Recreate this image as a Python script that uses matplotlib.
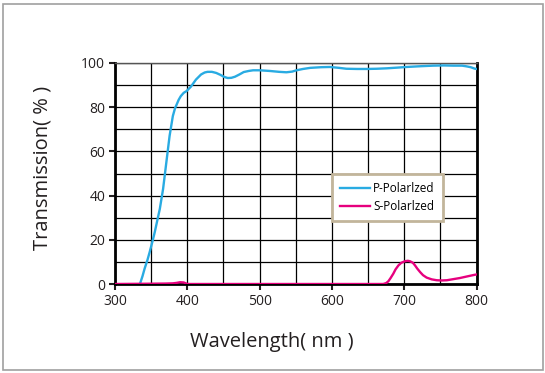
import matplotlib.pyplot as plt
from matplotlib.patches import Rectangle

# P-polarized transmission
p_wl = [334.5, 338, 341, 345, 348, 352, 355, 359, 362, 366.5, 371, 375.5, 380, 383,
        385, 388, 391, 395, 399, 405, 412, 419, 424, 428, 434, 440, 446, 451, 456,
        461, 466, 472, 478, 485, 491, 500, 514, 527, 537, 545, 551, 560, 570, 585,
        597, 610, 620, 635, 648, 662, 676, 690, 703, 720, 740, 755, 768, 780, 786,
        792, 797, 800]
p_t = [0, 3.5, 7, 11, 14.5, 19.5, 23.5, 29.5, 34, 43, 55, 67, 76, 79.5,
       81, 83.3, 85, 86.5, 87.3, 89.3, 92.5, 94.8, 95.7, 96, 96, 95.5, 94.6, 93.7, 93.2,
       93.3, 93.8, 94.8, 95.9, 96.4, 96.7, 96.7, 96.4, 96.0, 95.8, 96.1, 96.7, 97.3, 97.8, 98.1,
       98.2, 97.8, 97.4, 97.3, 97.3, 97.4, 97.6, 97.9, 98.2, 98.5, 98.8, 98.9, 98.8, 98.8, 98.5,
       98.1, 97.5, 97.3]

# S-polarized transmission
s_wl = [300, 340, 370, 380, 385, 390, 395, 398, 400, 500, 600, 671, 675, 678, 681,
        685, 688, 692, 696, 701, 705, 708, 712, 715, 718, 722, 726, 731, 738, 745,
        752, 759, 768, 777, 788, 798, 800]
s_t = [0, 0.1, 0.2, 0.3, 0.5, 0.8, 0.7, 0.3, 0, 0, 0, 0, 0.4, 1.2, 2.6,
       4.7, 6.6, 8.4, 9.6, 10.3, 10.5, 10.3, 9.6, 8.4, 7, 5.4, 4, 2.9, 2.1, 1.7,
       1.6, 1.7, 2.2, 2.7, 3.5, 4.2, 4.3]

blue = '#29abe2'
pink = '#e6007e'
txt = '#231f20'

plt.rcParams['font.family'] = ['Open Sans', 'DejaVu Sans']

fig = plt.figure(figsize=(5.45, 3.73), dpi=100)
fig.patches.append(Rectangle((2.5 / 545, 3.5 / 373), 540 / 545, 366 / 373,
                             transform=fig.transFigure, fill=False,
                             edgecolor='#a0a0a0', linewidth=1.2))

ax = fig.add_axes([115 / 545, 1 - 284 / 373, 361.5 / 545, 221 / 373])

ax.plot(p_wl, p_t, color=blue, lw=1.7, label='P-Polarlzed', zorder=3)
ax.plot(s_wl, s_t, color=pink, lw=1.7, label='S-Polarlzed', zorder=3)

ax.set_xlim(300, 800)
ax.set_ylim(0, 100)
ax.set_xticks(range(300, 801, 100))
ax.set_yticks(range(0, 101, 20))
ax.set_xticks(range(350, 800, 100), minor=True)
ax.set_yticks(range(10, 100, 20), minor=True)
ax.grid(True, which='both', color='black', lw=0.9)
ax.tick_params(which='minor', length=0)
ax.tick_params(which='major', length=4, width=1.5, colors=txt, labelsize=10, pad=3)
ax.set_axisbelow(True)

for s in ['left', 'bottom', 'right']:
    ax.spines[s].set_linewidth(2)
    ax.spines[s].set_color('black')
ax.spines['top'].set_linewidth(1)
ax.spines['top'].set_color('#555555')

fig.text(271.5 / 545, 1 - 342 / 373, 'Wavelength( nm )', fontsize=14.5, color=txt,
         ha='center', va='center')
fig.text(42.5 / 545, 1 - 168 / 373, 'Transmission( % )', fontsize=14.5, color=txt,
         ha='center', va='center', rotation=90)

leg = ax.legend(loc='upper left', bbox_to_anchor=(0.6, 0.5), borderaxespad=0,
                fontsize=8.5, frameon=True, fancybox=False, handlelength=2.5,
                handletextpad=0.3, borderpad=0.7, labelspacing=0.45)
leg.get_frame().set_edgecolor('#c2b59b')
leg.get_frame().set_linewidth(2)
leg.get_frame().set_alpha(1)

fig.savefig('out.png', dpi=100)
